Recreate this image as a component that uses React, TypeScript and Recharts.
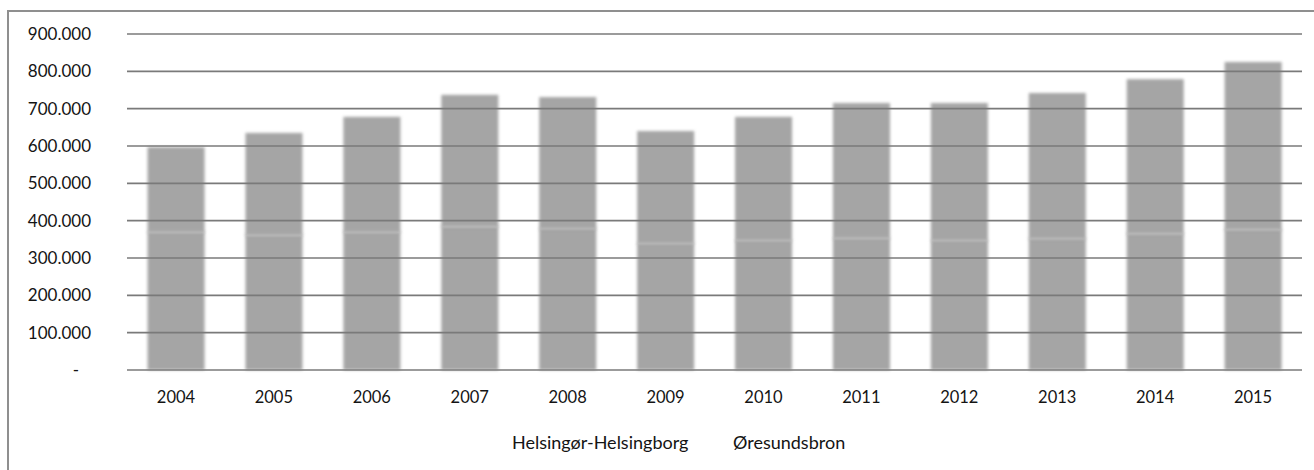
import { BarChart, Bar, XAxis, YAxis, ReferenceLine } from "recharts";

const years = ["2004", "2005", "2006", "2007", "2008", "2009", "2010", "2011", "2012", "2013", "2014", "2015"];
const helsingorHelsingborg = [370000, 362000, 370000, 385000, 380000, 340000, 348000, 354000, 348000, 353000, 366000, 377000];
const oresundsbron = [227000, 273000, 308000, 352000, 351000, 300000, 330000, 361000, 367000, 389000, 413000, 448000];
const yTicks = [0, 100000, 200000, 300000, 400000, 500000, 600000, 700000, 800000, 900000];
const seriesNames = ["Helsingør-Helsingborg", "Øresundsbron"];

const data = years.map((year, i) => ({
  year,
  hh: helsingorHelsingborg[i],
  ob: oresundsbron[i],
}));

const FONT = "Lato, 'Open Sans', sans-serif";
const BAR_GREY = "#a5a5a5";
const TEXT = "#141414";

// danish thousands separator
const formatDa = (v: number) => String(v).replace(/\B(?=(\d{3})+(?!\d))/g, ".");

function YTick({ x, y, payload }: any) {
  const zero = payload.value === 0;
  return (
    <text
      x={zero ? x - 12 : x}
      y={y}
      dy="0.36em"
      textAnchor="end"
      fill={TEXT}
      fontSize={17}
      fontFamily={FONT}
    >
      {zero ? "-" : formatDa(payload.value)}
    </text>
  );
}

function LowerBar({ x, y, width, height, fill }: any) {
  return <rect x={x} y={y} width={width} height={height} fill={fill} style={{ filter: "blur(1.7px)" }} />;
}

// upper segment gets a faint lighter seam where it sits on the lower one
function UpperBar({ x, y, width, height, fill }: any) {
  return (
    <g style={{ filter: "blur(1.7px)" }}>
      <rect x={x} y={y} width={width} height={height} fill={fill} />
      <line x1={x} x2={x + width} y1={y + height} y2={y + height} stroke="#ababab" strokeWidth={2.5} />
    </g>
  );
}

export default function App() {
  return (
    <div
      style={{
        position: "fixed",
        left: 0,
        top: 0,
        width: 1314,
        height: 470,
        overflow: "hidden",
        background: "#fff",
        fontFamily: FONT,
      }}
    >
      <div
        style={{
          position: "absolute",
          left: 7,
          top: 10,
          width: 1400,
          height: 520,
          borderLeft: "2px solid #8f8f8f",
          borderTop: "2px solid #8f8f8f",
        }}
      />
      <BarChart
        width={1314}
        height={470}
        data={data}
        margin={{ top: 34, right: 12, bottom: 70, left: 0 }}
        barCategoryGap="21%"
        style={{ position: "absolute", left: 0, top: 0 }}
      >
        <XAxis
          dataKey="year"
          height={30}
          axisLine={false}
          tickLine={false}
          tickSize={0}
          tickMargin={21}
          interval={0}
          tick={{ fill: TEXT, fontSize: 16.5, fontFamily: FONT }}
        />
        <YAxis
          width={127}
          domain={[0, 900000]}
          ticks={yTicks}
          interval={0}
          axisLine={false}
          tickLine={false}
          tickSize={0}
          tickMargin={36}
          tick={<YTick />}
        />
        <Bar dataKey="hh" name={seriesNames[0]} stackId="a" fill={BAR_GREY} shape={<LowerBar />} isAnimationActive={false} />
        <Bar dataKey="ob" name={seriesNames[1]} stackId="a" fill={BAR_GREY} shape={<UpperBar />} isAnimationActive={false} />
        {yTicks.map((v) => (
          <ReferenceLine key={v} y={v} stroke="#7a7a7a" strokeWidth={1.6} />
        ))}
      </BarChart>
      <span style={{ position: "absolute", left: 512, top: 431, fontSize: 18, color: TEXT }}>{seriesNames[0]}</span>
      <span style={{ position: "absolute", left: 733, top: 431, fontSize: 18, color: TEXT }}>{seriesNames[1]}</span>
    </div>
  );
}
